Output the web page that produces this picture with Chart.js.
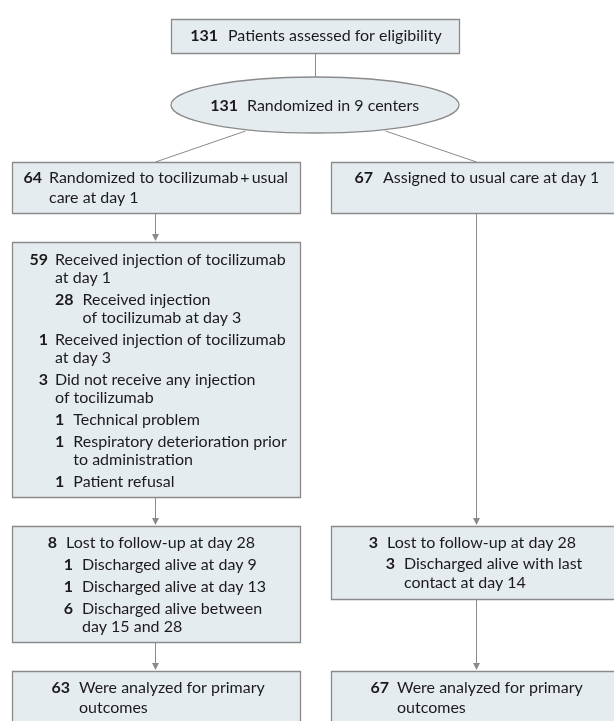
<!DOCTYPE html>
<html>
<head>
<meta charset="utf-8">
<script src="https://cdn.jsdelivr.net/npm/chart.js@4/dist/chart.umd.min.js"></script>
<style>
  html, body { margin: 0; padding: 0; background: #ffffff; }
  #wrap { width: 614px; height: 721px; position: relative; overflow: hidden; }
</style>
</head>
<body>
<div id="wrap"><canvas id="c" width="614" height="721"></canvas></div>
<script>
// ---------------- DATA ----------------
const screenedCounts = [131];
const screenedLabels = ["Patients assessed for eligibility"];
const randomizedCounts = [131];
const randomizedLabels = ["Randomized in 9 centers"];

const armCounts = [64, 67];
const armLabels = ["Randomized to tocilizumab\u2009+\u2009usual\ncare at day 1", "Assigned to usual care at day 1"];

const tociCounts = [59, 28, 1, 3, 1, 1, 1];
const tociLabels = [
  "Received injection of tocilizumab\nat day 1",
  "Received injection\nof tocilizumab at day 3",
  "Received injection of tocilizumab\nat day 3",
  "Did not receive any injection\nof tocilizumab",
  "Technical problem",
  "Respiratory deterioration prior\nto administration",
  "Patient refusal"
];
const tociLevels = [0, 1, 0, 0, 1, 1, 1];

const tociLostCounts = [8, 1, 1, 6];
const tociLostLabels = [
  "Lost to follow-up at day 28",
  "Discharged alive at day 9",
  "Discharged alive at day 13",
  "Discharged alive between\nday 15 and 28"
];
const tociLostLevels = [0, 1, 1, 1];

const ucLostCounts = [3, 3];
const ucLostLabels = ["Lost to follow-up at day 28", "Discharged alive with last\ncontact at day 14"];
const ucLostLevels = [0, 1];

const analyzedCounts = [63, 67];
const analyzedLabels = ["Were analyzed for primary\noutcomes", "Were analyzed for primary\noutcomes"];

// ---------------- LAYOUT / STYLE ----------------
const FONT = "Lato";
const FS = 16;
const style = {
  fill: "#e5ecf0",
  stroke: "#8a8a8a",
  line: "#8a8a8a",
  text: "#1c1a1b"
};

function items(counts, labels, levels) {
  return counts.map((n, i) => ({ n, label: labels[i], level: levels ? levels[i] : 0 }));
}

const boxes = [
  { shape: "rect", x0: 171, x1: 459, y0: 19, y1: 53, y: 36, lv: [{ nr: 218, tx: 228 }],
    items: items(screenedCounts, screenedLabels) },
  { shape: "ellipse", cx: 315, cy: 105, rx: 144, ry: 28, y: 106, lv: [{ nr: 238, tx: 247 }],
    items: items(randomizedCounts, randomizedLabels) },
  { shape: "rect", x0: 12, x1: 300, y0: 162, y1: 213, y: 178, wrap: 20, lv: [{ nr: 42, tx: 49 }],
    items: items([armCounts[0]], [armLabels[0]]) },
  { shape: "rect", x0: 331, x1: 621, y0: 162, y1: 213, y: 178, wrap: 20, lv: [{ nr: 373, tx: 383 }],
    items: items([armCounts[1]], [armLabels[1]]) },
  { shape: "rect", x0: 12, x1: 300, y0: 242, y1: 497, y: 260, wrap: 18, gap: 22,
    lv: [{ nr: 48, tx: 55 }, { nl: 55, g: 9 }],
    items: items(tociCounts, tociLabels, tociLevels) },
  { shape: "rect", x0: 12, x1: 300, y0: 526, y1: 642, y: 543, wrap: 18, gap: 22,
    lv: [{ nr: 57, tx: 66 }, { nr: 73, tx: 82 }],
    items: items(tociLostCounts, tociLostLabels, tociLostLevels) },
  { shape: "rect", x0: 331, x1: 621, y0: 526, y1: 599, y: 543, wrap: 19, gap: 21,
    lv: [{ nr: 378, tx: 387 }, { nr: 395, tx: 404 }],
    items: items(ucLostCounts, ucLostLabels, ucLostLevels) },
  { shape: "rect", x0: 12, x1: 300, y0: 671, y1: 745, y: 688, wrap: 20, lv: [{ nr: 70, tx: 79 }],
    items: items([analyzedCounts[0]], [analyzedLabels[0]]) },
  { shape: "rect", x0: 331, x1: 621, y0: 671, y1: 745, y: 688, wrap: 20, lv: [{ nr: 389, tx: 397 }],
    items: items([analyzedCounts[1]], [analyzedLabels[1]]) }
];

const connectors = [
  { pts: [[315, 53], [315, 77]], arrow: false },
  { pts: [[245, 131], [155, 162]], arrow: false },
  { pts: [[385, 131], [476, 162]], arrow: false },
  { pts: [[155, 213], [155, 242]], arrow: true },
  { pts: [[155, 497], [155, 526]], arrow: true },
  { pts: [[155, 642], [155, 671]], arrow: true },
  { pts: [[476, 213], [476, 526]], arrow: true },
  { pts: [[476, 599], [476, 671]], arrow: true }
];

// ---------------- DRAW PLUGIN ----------------
const flowPlugin = {
  id: "flow",
  afterDraw(chart) {
    const ctx = chart.ctx;
    const sx = chart.scales.x, sy = chart.scales.y;
    const X = v => sx.getPixelForValue(v);
    const Y = v => sy.getPixelForValue(v);
    ctx.save();

    // connectors
    ctx.strokeStyle = style.line;
    ctx.fillStyle = style.line;
    ctx.lineWidth = 1;
    connectors.forEach(c => {
      const [a, b] = c.pts;
      const ax = X(a[0]), ay = Y(a[1]), bx = X(b[0]), by = Y(b[1]);
      const endY = c.arrow ? by - 6 : by;
      ctx.beginPath();
      ctx.moveTo(Math.round(ax) + 0.5, ay);
      ctx.lineTo(Math.round(bx) + 0.5, endY);
      ctx.stroke();
      if (c.arrow) {
        const cx = Math.round(bx) + 0.5;
        ctx.beginPath();
        ctx.moveTo(cx - 3.5, by - 8);
        ctx.lineTo(cx + 3.5, by - 8);
        ctx.lineTo(cx, by - 1);
        ctx.closePath();
        ctx.fill();
      }
    });

    // boxes
    boxes.forEach(b => {
      ctx.fillStyle = style.fill;
      ctx.strokeStyle = style.stroke;
      ctx.lineWidth = 1.3;
      ctx.beginPath();
      if (b.shape === "rect") {
        const x0 = X(b.x0), x1 = X(b.x1), y0 = Y(b.y0), y1 = Y(b.y1);
        ctx.rect(Math.round(x0) + 0.5, Math.round(y0) + 0.5, Math.round(x1 - x0), Math.round(y1 - y0));
      } else {
        const cx = X(b.cx), cy = Y(b.cy);
        const rx = X(b.cx + b.rx) - cx, ry = Y(b.cy + b.ry) - cy;
        ctx.ellipse(cx, cy, Math.abs(rx), Math.abs(ry), 0, 0, Math.PI * 2);
      }
      ctx.fill();
      ctx.stroke();

      // text
      ctx.fillStyle = style.text;
      ctx.textBaseline = "middle";
      let y = b.y;
      b.items.forEach((it, idx) => {
        if (idx > 0) y += (b.gap || 22);
        const lv = b.lv[Math.min(it.level, b.lv.length - 1)];
        const numStr = String(it.n);
        ctx.font = "bold " + FS + "px " + FONT;
        const nw = ctx.measureText(numStr).width;
        let tx;
        if (lv.nl !== undefined) {
          ctx.textAlign = "left";
          ctx.fillText(numStr, X(lv.nl), Y(y));
          tx = X(lv.nl) + nw + lv.g;
        } else {
          ctx.textAlign = "right";
          ctx.fillText(numStr, X(lv.nr), Y(y));
          tx = X(lv.tx);
        }
        ctx.font = FS + "px " + FONT;
        ctx.textAlign = "left";
        const lines = it.label.split("\n");
        lines.forEach((ln, li) => {
          if (li > 0) y += (b.wrap || 18);
          ctx.fillText(ln, tx, Y(y));
        });
      });
    });
    ctx.restore();
  }
};

new Chart(document.getElementById("c"), {
  type: "scatter",
  data: { datasets: [] },
  options: {
    responsive: false,
    animation: false,
    events: [],
    layout: { padding: 0 },
    plugins: { legend: { display: false }, tooltip: { enabled: false } },
    scales: {
      x: { type: "linear", min: 0, max: 614, display: false },
      y: { type: "linear", min: 0, max: 721, reverse: true, display: false }
    }
  },
  plugins: [flowPlugin]
});
</script>
</body>
</html>
